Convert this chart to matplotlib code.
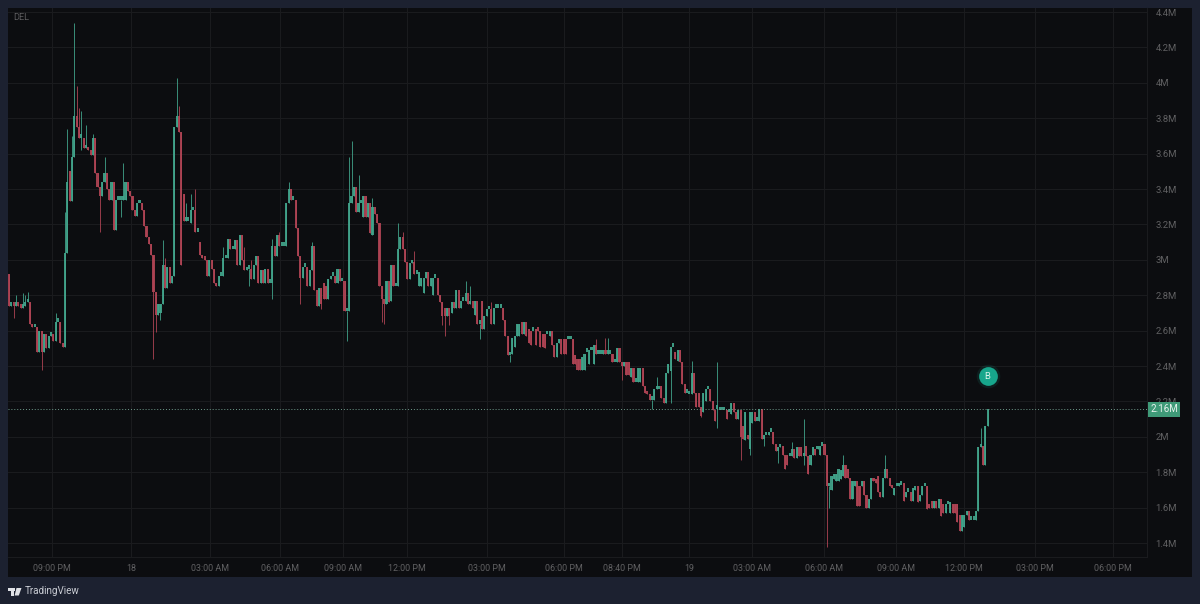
import matplotlib
matplotlib.use('Agg')
import numpy as np
import matplotlib.pyplot as plt
from matplotlib.patches import Rectangle, Polygon

opens = [
    2.92, 2.74, 2.75, 2.74, 2.75, 2.74, 2.73, 2.74, 2.76, 2.76,
    2.64, 2.62, 2.62, 2.48, 2.60, 2.48, 2.58, 2.50, 2.57, 2.58,
    2.54, 2.65, 2.65, 2.53, 2.51, 3.04, 3.50, 3.33, 3.58, 3.81,
    3.75, 3.69, 3.69, 3.63, 3.63, 3.62, 3.59, 3.69, 3.49, 3.41,
    3.36, 3.44, 3.49, 3.40, 3.34, 3.44, 3.17, 3.34, 3.34, 3.34,
    3.34, 3.44, 3.39, 3.36, 3.28, 3.25, 3.32, 3.32, 3.28, 3.19,
    3.13, 3.09, 3.03, 2.82, 2.69, 2.70, 2.75, 2.97, 2.84, 2.96,
    2.87, 2.91, 3.75, 3.81, 3.72, 3.37, 3.22, 3.22, 3.21, 3.28,
    3.28, 3.16,
    3.10, 3.03, 3.01, 3.00, 2.91, 3.00, 2.95, 2.87, 2.85, 2.91,
    2.91, 3.01, 3.01, 3.12, 3.06, 3.06, 3.11, 2.97, 3.14, 3.00,
    2.94, 2.95, 2.95, 2.89, 2.97, 3.02, 2.87, 2.94, 2.87, 2.95,
    2.87, 2.87, 3.08, 3.02, 3.14, 3.08, 3.08, 3.08, 3.32, 3.40,
    3.34, 3.34, 3.18, 3.02, 2.90, 2.96, 2.96, 2.85, 2.94, 3.08,
    2.83, 2.74, 2.84, 2.87, 2.85, 2.78, 2.89, 2.91, 2.91, 2.87,
    2.95, 2.88, 2.88, 2.71, 2.71, 3.32, 3.36, 3.41, 3.27, 3.32,
    3.24, 3.36, 3.24, 3.32, 3.14, 3.30, 3.26, 3.21, 2.85, 2.78,
    2.75, 2.88, 2.77, 2.97, 2.85, 2.85, 3.06, 3.13, 3.06, 2.99,
    2.89, 2.98, 2.99, 2.92,
    2.85, 2.85, 2.81, 2.90, 2.93, 2.85, 2.80, 2.90, 2.90, 2.80,
    2.76, 2.73, 2.68, 2.73, 2.70, 2.76, 2.73, 2.83, 2.73, 2.77,
    2.77, 2.81, 2.75, 2.77, 2.69, 2.77, 2.64, 2.77, 2.61, 2.68,
    2.72, 2.72, 2.64, 2.73, 2.73, 2.73, 2.73, 2.66, 2.57, 2.46,
    2.47, 2.51, 2.57, 2.57, 2.65, 2.58, 2.65, 2.61, 2.60, 2.60,
    2.61, 2.61, 2.60, 2.58, 2.58, 2.58, 2.57, 2.60, 2.52, 2.45,
    2.53, 2.55, 2.55, 2.55, 2.55, 2.55, 2.55, 2.46, 2.44, 2.44,
    2.38, 2.38, 2.48, 2.41, 2.49, 2.41, 2.52, 2.47, 2.47, 2.47,
    2.48, 2.47, 2.47, 2.47, 2.42, 2.42, 2.50, 2.42, 2.40, 2.42,
    2.42, 2.34, 2.39, 2.31, 2.31, 2.31, 2.39, 2.29, 2.25, 2.24,
    2.21, 2.21, 2.27, 2.27, 2.29, 2.22, 2.19, 2.36, 2.37, 2.51,
    2.48, 2.43, 2.49, 2.42, 2.30, 2.25, 2.24, 2.24, 2.36, 2.25,
    2.25, 2.17, 2.14, 2.20, 2.27, 2.27, 2.20, 2.15, 2.16, 2.15,
    2.15, 2.15, 2.15, 2.14, 2.13, 2.19, 2.14, 2.10, 2.15, 2.06,
    1.98, 2.01, 1.93, 2.08, 2.14, 2.09, 2.09, 2.155, 1.99, 2.01,
    2.01, 2.03, 2.03, 1.96, 1.92, 1.94, 1.95, 1.90, 1.90, 1.89,
    1.89, 1.93, 1.88, 1.94, 1.94, 1.89, 1.95, 1.89, 1.84, 1.90,
    1.93, 1.93, 1.90, 1.95, 1.96, 1.90, 1.72, 1.70, 1.76, 1.75,
    1.75, 1.76, 1.78, 1.84, 1.82, 1.77, 1.65, 1.72, 1.75, 1.72,
    1.72, 1.75, 1.67, 1.60, 1.65, 1.77, 1.76, 1.78, 1.69, 1.66,
    1.77, 1.82, 1.77, 1.72, 1.67, 1.72, 1.72, 1.73, 1.74, 1.66,
    1.69, 1.69, 1.64, 1.70, 1.72, 1.64, 1.67, 1.72, 1.72, 1.62,
    1.64, 1.60, 1.64, 1.60, 1.65, 1.62, 1.57, 1.62, 1.57, 1.62,
    1.62, 1.62, 1.56, 1.47, 1.49, 1.56, 1.58, 1.53, 1.53, 1.53,
    1.58, 1.94, 1.95, 1.84, 2.06,
]

closes = [
    2.74, 2.75, 2.74, 2.75, 2.74, 2.73, 2.74, 2.76, 2.76, 2.64,
    2.62, 2.62, 2.48, 2.60, 2.48, 2.58, 2.50, 2.57, 2.58, 2.54,
    2.65, 2.65, 2.53, 2.51, 3.04, 3.44, 3.33, 3.58, 3.81, 3.75,
    3.69, 3.69, 3.63, 3.63, 3.62, 3.59, 3.69, 3.49, 3.41, 3.36,
    3.44, 3.49, 3.40, 3.34, 3.44, 3.17, 3.34, 3.34, 3.34, 3.34,
    3.44, 3.39, 3.36, 3.28, 3.25, 3.32, 3.32, 3.28, 3.19, 3.13,
    3.09, 3.03, 2.82, 2.69, 2.75, 2.75, 2.97, 2.84, 2.96, 2.87,
    2.91, 3.75, 3.81, 3.72, 2.97, 3.22, 3.22, 3.22, 3.28, 3.28,
    3.16, 3.16,
    3.03, 3.01, 3.00, 2.91, 3.00, 2.95, 2.87, 2.85, 2.91, 2.91,
    3.01, 3.01, 3.12, 3.06, 3.06, 3.11, 2.97, 3.14, 3.00, 2.94,
    2.95, 2.95, 2.89, 2.97, 3.02, 2.87, 2.94, 2.87, 2.95, 2.87,
    2.87, 3.08, 3.02, 3.14, 3.08, 3.08, 3.08, 3.32, 3.40, 3.34,
    3.34, 3.18, 3.02, 2.90, 2.96, 2.96, 2.85, 2.94, 3.08, 2.83,
    2.74, 2.84, 2.75, 2.78, 2.78, 2.89, 2.91, 2.91, 2.87, 2.95,
    2.88, 2.88, 2.71, 2.71, 3.32, 3.36, 3.41, 3.27, 3.32, 3.32,
    3.36, 3.24, 3.32, 3.15, 3.30, 3.26, 3.21, 2.85, 2.78, 2.75,
    2.88, 2.76, 2.97, 2.85, 2.85, 3.06, 3.13, 3.06, 2.99, 2.89,
    2.98, 2.99, 2.92, 2.92,
    2.93, 2.90, 2.90, 2.93, 2.85, 2.90, 2.90, 2.90, 2.80, 2.76,
    2.68, 2.68, 2.73, 2.68, 2.76, 2.73, 2.83, 2.73, 2.77, 2.77,
    2.81, 2.75, 2.75, 2.73, 2.77, 2.64, 2.64, 2.61, 2.68, 2.72,
    2.72, 2.64, 2.73, 2.73, 2.73, 2.73, 2.66, 2.57, 2.46, 2.46,
    2.56, 2.57, 2.64, 2.64, 2.58, 2.65, 2.57, 2.53, 2.52, 2.60,
    2.52, 2.60, 2.51, 2.51, 2.50, 2.58, 2.60, 2.52, 2.45, 2.53,
    2.55, 2.47, 2.47, 2.47, 2.55, 2.55, 2.41, 2.41, 2.38, 2.38,
    2.45, 2.47, 2.48, 2.49, 2.49, 2.52, 2.47, 2.47, 2.47, 2.48,
    2.47, 2.47, 2.47, 2.42, 2.42, 2.50, 2.42, 2.40, 2.42, 2.35,
    2.35, 2.39, 2.31, 2.31, 2.39, 2.39, 2.29, 2.25, 2.24, 2.21,
    2.21, 2.27, 2.27, 2.27, 2.22, 2.19, 2.36, 2.41, 2.51, 2.51,
    2.44, 2.49, 2.42, 2.30, 2.25, 2.25, 2.24, 2.36, 2.25, 2.17,
    2.17, 2.12, 2.25, 2.27, 2.27, 2.20, 2.15, 2.09, 2.16, 2.15,
    2.15, 2.15, 2.10, 2.14, 2.19, 2.14, 2.10, 2.15, 2.00, 1.99,
    2.14, 1.99, 2.14, 2.14, 2.09, 2.09, 2.155, 1.99, 2.01, 2.01,
    2.03, 2.03, 1.96, 1.92, 1.94, 1.95, 1.90, 1.82, 1.84, 1.89,
    1.93, 1.88, 1.94, 1.89, 1.89, 1.89, 1.89, 1.79, 1.90, 1.94,
    1.90, 1.94, 1.95, 1.95, 1.90, 1.72, 1.72, 1.78, 1.79, 1.79,
    1.82, 1.81, 1.84, 1.77, 1.77, 1.65, 1.75, 1.75, 1.61, 1.61,
    1.75, 1.67, 1.60, 1.65, 1.77, 1.75, 1.74, 1.69, 1.66, 1.77,
    1.82, 1.77, 1.72, 1.71, 1.71, 1.72, 1.73, 1.73, 1.64, 1.69,
    1.69, 1.64, 1.71, 1.71, 1.63, 1.67, 1.72, 1.72, 1.59, 1.60,
    1.60, 1.64, 1.60, 1.65, 1.55, 1.57, 1.62, 1.62, 1.63, 1.57,
    1.57, 1.52, 1.47, 1.56, 1.56, 1.58, 1.53, 1.53, 1.53, 1.58,
    1.94, 1.95, 1.84, 2.06, 2.155,
]

# Only the candles with a wick that sticks out of the body.
high_wicks = {
    3: 2.80, 6: 2.81, 7: 2.80, 8: 2.82, 20: 2.70, 24: 3.27, 25: 3.74, 27: 3.70,
    28: 4.34, 29: 3.98, 30: 3.86, 31: 3.84, 33: 3.76, 36: 3.71, 41: 3.58,
    49: 3.55, 66: 3.11, 67: 3.01, 72: 4.03, 73: 3.87, 76: 3.32, 78: 3.37,
    80: 3.40, 92: 3.07, 101: 3.07, 104: 3.00, 113: 3.12, 116: 3.16, 120: 3.44,
    130: 3.10, 146: 3.58, 147: 3.67, 150: 3.48, 156: 3.35, 167: 3.21, 169: 3.16,
    174: 3.05, 196: 2.88, 198: 2.85, 207: 2.76, 252: 2.55, 256: 2.56, 257: 2.56,
    278: 2.34, 293: 2.43, 304: 2.42, 336: 1.97, 341: 2.10, 358: 1.90, 376: 1.90,
    417: 2.05,
}
low_wicks = {
    2: 2.67, 14: 2.38, 31: 3.62, 39: 3.16, 48: 3.24, 62: 2.44, 63: 2.59, 65: 2.66,
    103: 2.85, 113: 2.78, 125: 2.75, 134: 2.72, 145: 2.54, 160: 2.65, 161: 2.64,
    186: 2.63, 187: 2.57, 189: 2.63, 202: 2.55, 215: 2.42, 263: 2.32, 276: 2.16,
    284: 2.19, 297: 2.11, 304: 2.05, 314: 1.87, 318: 1.90, 324: 1.95, 330: 1.85,
    341: 1.84, 351: 1.38, 352: 1.60,
}

price_ticks = [1.4, 1.6, 1.8, 2.0, 2.2, 2.4, 2.6, 2.8, 3.0, 3.2, 3.4, 3.6, 3.8, 4.0, 4.2, 4.4]
price_labels = ['1.4M', '1.6M', '1.8M', '2M', '2.2M', '2.4M', '2.6M', '2.8M',
                '3M', '3.2M', '3.4M', '3.6M', '3.8M', '4M', '4.2M', '4.4M']
time_ticks = [18.5, 52.4, 86.3, 116.3, 143.3, 170.8, 205.2, 238.2,
              263.1, 291.8, 318.9, 349.8, 380.7, 409.9, 440.3, 473.8]
time_labels = ['09:00 PM', '18', '03:00 AM', '06:00 AM', '09:00 AM', '12:00 PM',
               '03:00 PM', '06:00 PM', '08:40 PM', '19', '03:00 AM', '06:00 AM',
               '09:00 AM', '12:00 PM', '03:00 PM', '06:00 PM']
last_price = 2.157
marker_price = 2.345
marker_candle = 420

GREEN = '#42a58c'
RED = '#b04454'
BG = '#0c0d10'
OUTER = '#1c2130'
GRID = '#1a1b1e'
LABEL = '#606062'

plt.rcParams['font.family'] = ['Roboto', 'DejaVu Sans']

W, H = 1200, 604
fig = plt.figure(figsize=(W / 100, H / 100), dpi=100, facecolor=OUTER)
fig.patches.append(Rectangle((8 / W, 1 - 577 / H), 1184 / W, 569 / H,
                             transform=fig.transFigure, fc=BG, ec='none', zorder=-5))

ax = fig.add_axes([8 / W, 1 - 557 / H, 1139 / W, 549 / H], facecolor='none')
ax.set_xlim(-0.43, 488.4)
ax.set_ylim(1.321, 4.423)
for s in ax.spines.values():
    s.set_visible(False)
for side in ['bottom', 'right']:
    ax.spines[side].set_visible(True)
    ax.spines[side].set_color('#1a1b1e')
    ax.spines[side].set_linewidth(0.8)

ax.yaxis.tick_right()
ax.set_yticks(price_ticks)
ax.set_yticklabels(price_labels)
ax.set_xticks(time_ticks)
ax.set_xticklabels(time_labels)
ax.tick_params(axis='y', length=0, pad=6, labelsize=6.8, labelcolor=LABEL)
ax.tick_params(axis='x', length=0, pad=5, labelsize=6.4, labelcolor=LABEL)
ax.grid(True, color=GRID, lw=0.8, zorder=0)
ax.set_axisbelow(True)

idx = np.arange(len(closes))
o = np.array(opens)
c = np.array(closes)
highs = np.maximum(o, c)
lows = np.minimum(o, c)
for k, v in high_wicks.items():
    highs[k] = v
for k, v in low_wicks.items():
    lows[k] = v
up = c >= o
colors = np.where(up, GREEN, RED)

ax.vlines(idx, lows, highs, colors=colors, lw=0.7, alpha=0.85, zorder=3)
body = np.maximum(np.abs(c - o), 0.02)
ax.bar(idx, body, bottom=np.minimum(o, c), width=0.9, color=colors, lw=0, alpha=0.92, zorder=4)

ax.axhline(last_price, color='#6f9c8c', lw=0.7, ls=(0, (1, 2)), zorder=5)

# Last price tag over the 2.2M label.
ax.annotate('2.16M', xy=(1.0, last_price), xycoords=('axes fraction', 'data'),
            xytext=(17, 0), textcoords='offset pixels', ha='center', va='center',
            fontsize=7, color='#e8f2ee', zorder=8, annotation_clip=False,
            bbox=dict(boxstyle='square,pad=0.26', fc='#3f9a78', ec='none'))

# Buy marker above the last candle.
ax.plot([marker_candle], [marker_price], 'o', ms=17, color='#15a58c', alpha=0.12, mec='none', zorder=6)
ax.plot([marker_candle], [marker_price], 'o', ms=13.5, color='#17a68c', mec='none', zorder=7)
ax.text(marker_candle, marker_price - 0.002, 'B', color='#d6f2ea', fontsize=6.8,
        ha='center', va='center', zorder=8)

fig.text(13 / W, 1 - 18 / H, 'DEL', color='#5c5c5e', fontsize=6.6, va='center')

# TradingView logo and name in the bottom strip.
logo = [
    Rectangle((8 / W, 1 - 590.5 / H), 6.5 / W, 2.6 / H),
    Rectangle((10.8 / W, 1 - 595.5 / H), 2.8 / W, 5 / H),
    Polygon([(16.5 / W, 1 - 588 / H), (21.5 / W, 1 - 588 / H),
             (18.8 / W, 1 - 595.5 / H), (14.6 / W, 1 - 595.5 / H)], closed=True),
]
for p in logo:
    p.set(transform=fig.transFigure, fc='#dfe1e6', ec='none')
    fig.patches.append(p)
fig.text(25 / W, 1 - 591 / H, 'TradingView', color='#c9ccd3', fontsize=7.1, va='center')

fig.savefig('out.png', dpi=100, facecolor=fig.get_facecolor())
